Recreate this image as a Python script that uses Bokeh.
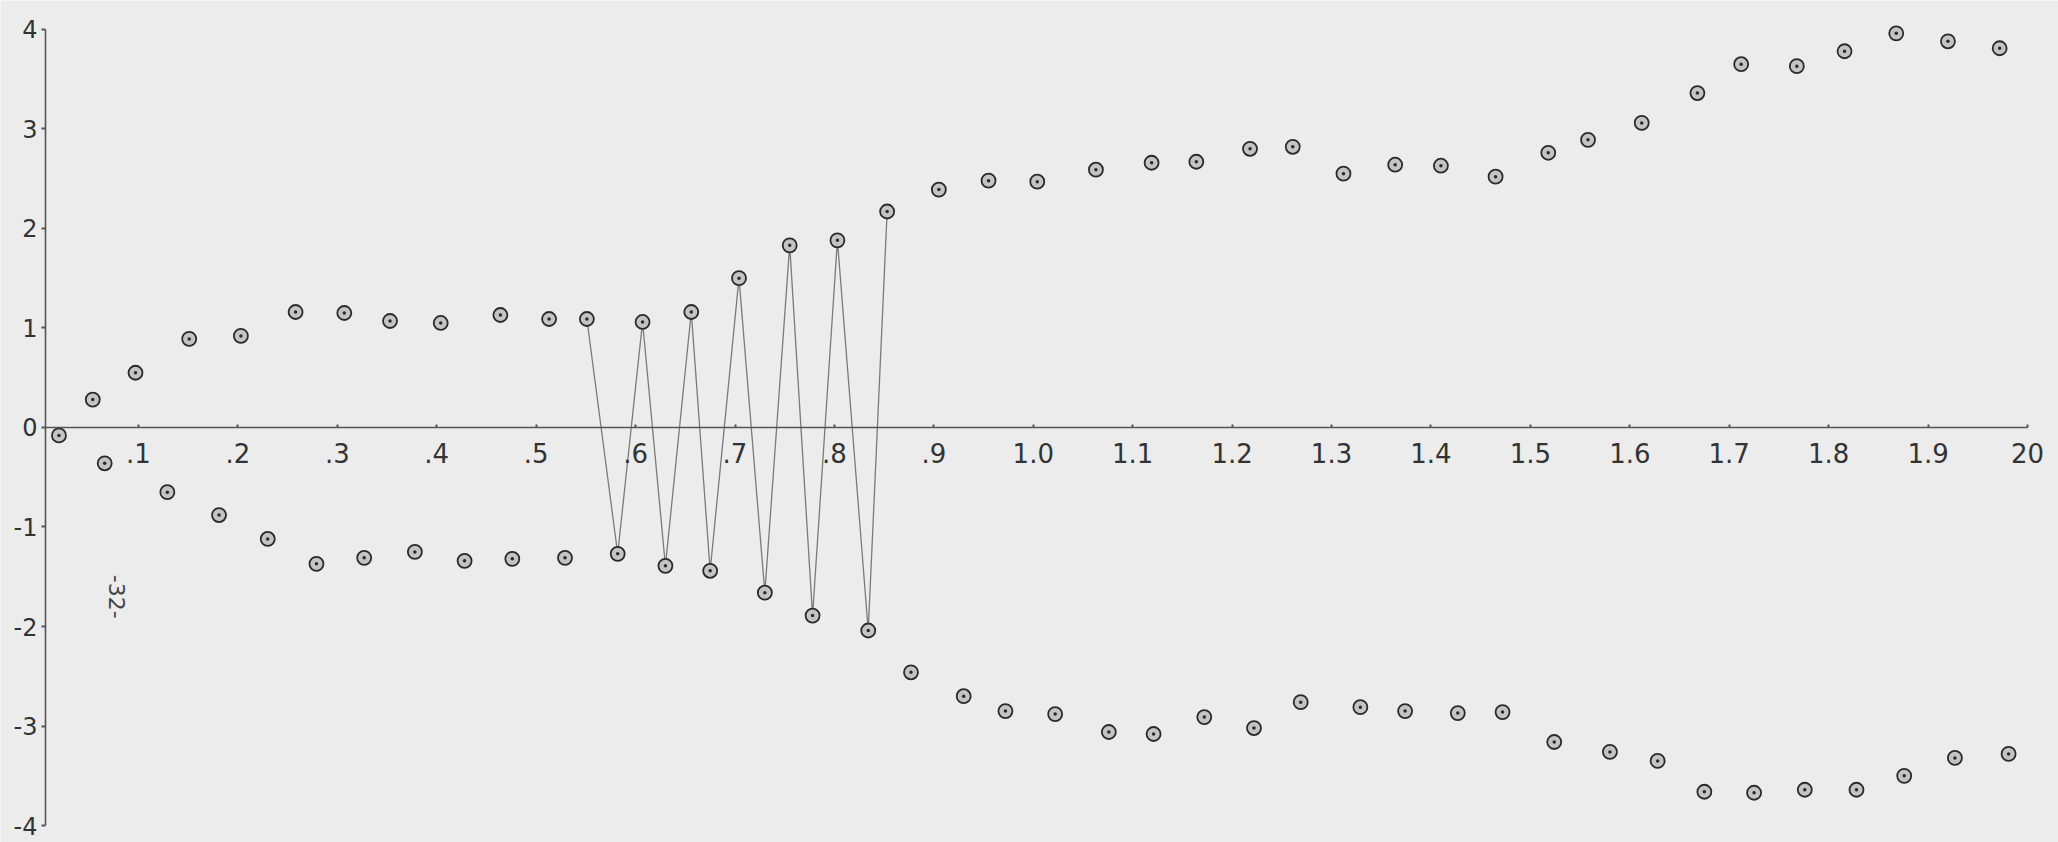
import math

from bokeh.core.properties import value
from bokeh.embed import file_html
from bokeh.models import ColumnDataSource, FixedTicker, Range1d
from bokeh.plotting import figure
from bokeh.resources import INLINE

# Upper branch of the response
upper_x = [0.020, 0.054, 0.097, 0.151, 0.203, 0.258, 0.307, 0.353, 0.404, 0.464,
           0.513, 0.551, 0.607, 0.656, 0.704, 0.755, 0.803, 0.853, 0.905, 0.955,
           1.004, 1.063, 1.119, 1.164, 1.218, 1.261, 1.312, 1.364, 1.410, 1.465,
           1.518, 1.558, 1.612, 1.668, 1.712, 1.768, 1.816, 1.868, 1.920, 1.972]
upper_y = [-0.08, 0.28, 0.55, 0.89, 0.92, 1.16, 1.15, 1.07, 1.05, 1.13,
           1.09, 1.09, 1.06, 1.16, 1.50, 1.83, 1.88, 2.17, 2.39, 2.48,
           2.47, 2.59, 2.66, 2.67, 2.80, 2.82, 2.55, 2.64, 2.63, 2.52,
           2.76, 2.89, 3.06, 3.36, 3.65, 3.63, 3.78, 3.96, 3.88, 3.81]

# Lower branch of the response
lower_x = [0.066, 0.129, 0.181, 0.230, 0.279, 0.327, 0.378, 0.428, 0.476, 0.529,
           0.582, 0.630, 0.675, 0.730, 0.778, 0.834, 0.877, 0.930, 0.972, 1.022,
           1.076, 1.121, 1.172, 1.222, 1.269, 1.329, 1.374, 1.427, 1.472, 1.524,
           1.580, 1.628, 1.675, 1.725, 1.776, 1.828, 1.876, 1.927, 1.981]
lower_y = [-0.36, -0.65, -0.88, -1.12, -1.37, -1.31, -1.25, -1.34, -1.32, -1.31,
           -1.27, -1.39, -1.44, -1.66, -1.89, -2.04, -2.46, -2.70, -2.85, -2.88,
           -3.06, -3.08, -2.91, -3.02, -2.76, -2.81, -2.85, -2.87, -2.86, -3.16,
           -3.26, -3.35, -3.66, -3.67, -3.64, -3.64, -3.50, -3.32, -3.28]

# Interval over which the two branches alternate (joined by a zig-zag)
zigzag_span = (0.55, 0.86)

x_ticks = [0.1, 0.2, 0.3, 0.4, 0.5, 0.6, 0.7, 0.8, 0.9, 1.0,
           1.1, 1.2, 1.3, 1.4, 1.5, 1.6, 1.7, 1.8, 1.9, 2.0]
x_tick_labels = [".1", ".2", ".3", ".4", ".5", ".6", ".7", ".8", ".9", "1.0",
                 "1.1", "1.2", "1.3", "1.4", "1.5", "1.6", "1.7", "1.8", "1.9", "20"]
y_ticks = [-4, -3, -2, -1, 0, 1, 2, 3, 4]
y_tick_labels = ["-4", "-3", "-2", "-1", "0", "1", "2", "3", "4"]

page_label = "-32-"

PAPER = "#ececec"
INK = "#333333"
FONT = "DejaVu Sans"

p = figure(width=2058, height=842, output_backend="svg", toolbar_location=None,
           x_range=Range1d(-0.0388, 2.0312), y_range=Range1d(-4.17, 4.29),
           min_border=0, background_fill_color=PAPER, border_fill_color=PAPER,
           outline_line_color=None)
p.grid.visible = False

# Axes drawn through the origin
p.xaxis.fixed_location = 0
p.yaxis.fixed_location = 0.0065
p.xaxis.bounds = (0.0065, 2.0)
p.yaxis.bounds = (-4, 4)

p.xaxis.ticker = FixedTicker(ticks=x_ticks)
p.xaxis.major_label_overrides = {t: s for t, s in zip(x_ticks, x_tick_labels)}
p.yaxis.ticker = FixedTicker(ticks=y_ticks)
p.yaxis.major_label_overrides = {t: s for t, s in zip(y_ticks, y_tick_labels)}

for ax in (p.xaxis, p.yaxis):
    ax.axis_line_color = "#555555"
    ax.axis_line_width = 1.6
    ax.major_tick_line_color = "#555555"
    ax.major_tick_line_width = 2
    ax.minor_tick_line_color = None
    ax.major_label_text_font = FONT
    ax.major_label_text_color = INK

p.xaxis.major_label_text_font_size = "26px"
p.yaxis.major_label_text_font_size = "24px"
p.xaxis.major_tick_in = 3
p.xaxis.major_tick_out = 0
p.xaxis.major_label_standoff = 16
p.yaxis.major_tick_in = 0
p.yaxis.major_tick_out = 4
p.yaxis.major_label_standoff = 4

# Zig-zag joining alternating points of the two branches
zz = sorted(
    [(x, y) for x, y in zip(upper_x, upper_y) if zigzag_span[0] <= x <= zigzag_span[1]]
    + [(x, y) for x, y in zip(lower_x, lower_y) if zigzag_span[0] <= x <= zigzag_span[1]]
)
p.line([q[0] for q in zz], [q[1] for q in zz], line_color="#7a7a7a", line_width=1.3)

marker_style = dict(marker="circle_dot", size=14, fill_color="#c4c4c4",
                    line_color="#2a2a2a", line_width=1.8)
p.scatter(source=ColumnDataSource(dict(x=upper_x, y=upper_y)), x="x", y="y", **marker_style)
p.scatter(source=ColumnDataSource(dict(x=lower_x, y=lower_y)), x="x", y="y", **marker_style)

# Page number written sideways on the sheet
p.text(x=[0.078], y=[-1.70], text=[page_label], angle=-math.pi / 2,
       text_font=value(FONT), text_font_size="22px", text_color="#444444",
       text_align="center", text_baseline="middle")

open("out.html", "w").write(file_html(p, INLINE))
